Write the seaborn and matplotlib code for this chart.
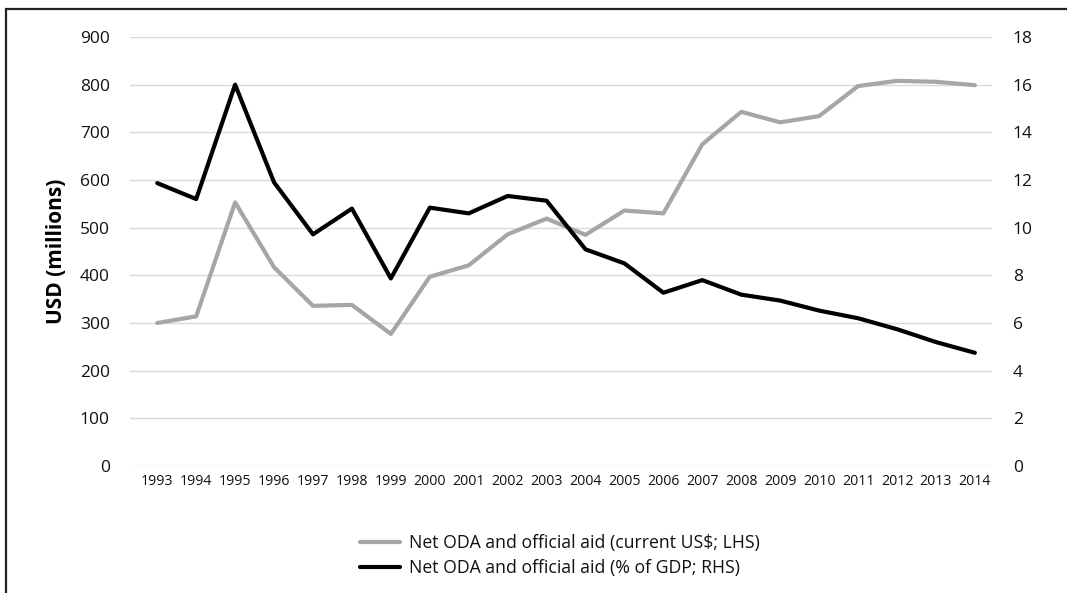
import pandas as pd
import matplotlib.pyplot as plt
import seaborn as sns
from matplotlib.patches import Rectangle
from matplotlib.lines import Line2D

# Data
years = list(range(1993, 2015))
oda_usd = [300, 314, 553, 417, 336, 338, 277, 397, 421, 486, 519,
           485, 536, 530, 675, 743, 721, 734, 797, 808, 806, 799]
oda_gdp = [11.87, 11.2, 16.0, 11.9, 9.72, 10.8, 7.87, 10.84, 10.6, 11.33, 11.13,
           9.09, 8.5, 7.27, 7.8, 7.19, 6.94, 6.52, 6.2, 5.74, 5.2, 4.75]
label_usd = 'Net ODA and official aid (current US$; LHS)'
label_gdp = 'Net ODA and official aid (% of GDP; RHS)'

df = pd.DataFrame({'year': years, 'usd': oda_usd, 'gdp': oda_gdp})

sns.set_theme(style='white')
plt.rcParams['font.family'] = ['Open Sans', 'DejaVu Sans']
plt.rcParams['text.color'] = '#111111'
plt.rcParams['xtick.color'] = '#111111'
plt.rcParams['ytick.color'] = '#111111'
plt.rcParams['axes.labelcolor'] = '#000000'

W, H = 1067, 593
fig = plt.figure(figsize=(W / 100, H / 100), dpi=100)
ax = fig.add_axes([130 / W, 1 - 466 / H, (992 - 130) / W, (466 - 37) / H])
ax2 = ax.twinx()

grey = '#A6A6A6'
sns.lineplot(data=df, x='year', y='usd', ax=ax, color=grey, linewidth=3, zorder=3)
sns.lineplot(data=df, x='year', y='gdp', ax=ax2, color='black', linewidth=3, zorder=3)

ax.set_ylim(0, 900)
ax.set_yticks(range(0, 901, 100))
ax2.set_ylim(0, 18)
ax2.set_yticks(range(0, 19, 2))
ax.set_xlim(1993 - 0.7, 2014 + 0.44)
ax.set_xticks(years)
ax.set_xticklabels([str(y) for y in years], fontsize=10.2)

ax.grid(axis='y', color='#D9D9D9', linewidth=1)
ax.set_axisbelow(True)
for a in (ax, ax2):
    for s in a.spines.values():
        s.set_visible(False)
    a.tick_params(length=0)
ax.tick_params(axis='y', labelsize=12.5, pad=14.5)
ax.tick_params(axis='x', pad=6)
ax2.tick_params(axis='y', labelsize=12.5, pad=15)
ax.set_xlabel('')
ax2.set_ylabel('')
ax.set_ylabel('USD (millions)', fontsize=15, fontweight='bold', labelpad=9)

handles = [Line2D([], [], color=grey, linewidth=3),
           Line2D([], [], color='black', linewidth=3)]
fig.legend(handles, [label_usd, label_gdp], loc='center',
           bbox_to_anchor=(560 / W, 1 - 555.5 / H), frameon=False,
           fontsize=12.7, handlelength=2.27, handletextpad=0.5, labelspacing=0.42)

# outer frame (cut off at the right and bottom edges)
fig.patches.append(Rectangle((6 / W, -0.1), 1.2, 1.1 - 9 / H, transform=fig.transFigure,
                             fill=False, edgecolor='#222222', linewidth=1.6))

fig.savefig('out.png', dpi=100)
